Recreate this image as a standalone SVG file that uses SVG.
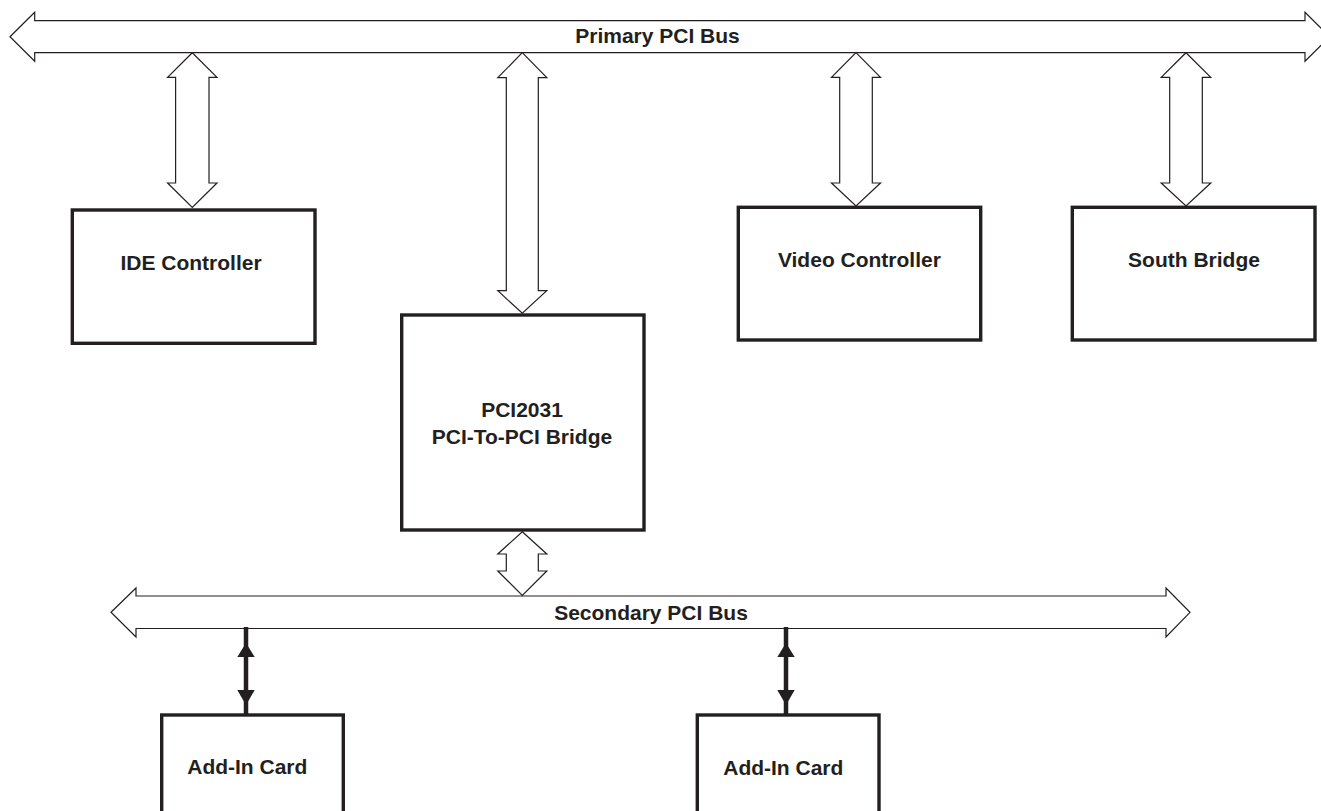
<svg xmlns="http://www.w3.org/2000/svg" width="1321" height="811" viewBox="0 0 1321 811">
<style>
.bus{fill:#fff;stroke:#231f20;stroke-width:1.2;stroke-linejoin:miter}
.blk{fill:#fff;stroke:#231f20;stroke-width:1.2;stroke-linejoin:miter}
.box{fill:#fff;stroke:#231f20;stroke-width:3.4}
.lbl{font-family:"Liberation Sans",Arial,sans-serif;font-weight:bold;font-size:21px;fill:#231f20;text-anchor:middle}
.wire{stroke:#231f20;stroke-width:4.5;fill:none}
.head{fill:#231f20;stroke:none}
</style>
<rect width="1321" height="811" fill="#fff"/>
<g id="primary-bus">
<path class="bus" d="M10,36.7 L34.7,12.3 L34.7,20.7 L1305,20.7 L1305,12.3 L1329.7,36.7 L1305,61.3 L1305,52.7 L34.7,52.7 L34.7,61.3 Z"/>
<text class="lbl" x="657.5" y="43">Primary PCI Bus</text>
</g>
<g id="secondary-bus">
<path class="bus" d="M111,612.3 L136,588 L136,596 L1166,596 L1166,588 L1190,612.3 L1166,637 L1166,628.5 L136,628.5 L136,637 Z"/>
<text class="lbl" x="651" y="620">Secondary PCI Bus</text>
</g>
<g id="connectors">
<polygon class="blk" points="192.3,52.7 217,77.3 209,77.3 209,183 217,183 192.3,207.5 167.6,183 175.6,183 175.6,77.3 167.6,77.3"/>
<polygon class="blk" points="522.3,52.7 546.8,77.7 538.3,77.7 538.3,290.7 546.8,290.7 522.3,313.3 497.8,290.7 506.3,290.7 506.3,77.7 497.8,77.7"/>
<polygon class="blk" points="856,52.7 880.5,77.3 872.3,77.3 872.3,183 880.5,183 856,206 831.5,183 839.7,183 839.7,77.3 831.5,77.3"/>
<polygon class="blk" points="1186,52.7 1210.8,77.3 1202.3,77.3 1202.3,183 1210.8,183 1186,206 1161.2,183 1169.7,183 1169.7,77.3 1161.2,77.3"/>
<polygon class="blk" points="522.3,531.7 546.8,554 538.3,554 538.3,571 546.8,571 522.3,595.5 497.8,571 506.3,571 506.3,554 497.8,554"/>
<line class="wire" x1="246" y1="627" x2="246" y2="715"/>
<polygon class="head" points="246,643 254.7,657 237.3,657"/>
<polygon class="head" points="237.3,690 254.7,690 246,705"/>
<line class="wire" x1="786" y1="627" x2="786" y2="715"/>
<polygon class="head" points="786,643 794.7,657 777.3,657"/>
<polygon class="head" points="777.3,690 794.7,690 786,705"/>
</g>
<g id="ide-controller">
<rect class="box" x="72.3" y="210" width="242.7" height="133.3"/>
<text class="lbl" x="191" y="270">IDE Controller</text>
</g>
<g id="pci2031">
<rect class="box" x="401.7" y="315" width="242.3" height="215"/>
<text class="lbl" x="522" y="416.7">PCI2031</text>
<text class="lbl" x="522" y="444.3">PCI-To-PCI Bridge</text>
</g>
<g id="video-controller">
<rect class="box" x="738.3" y="207.3" width="242.4" height="132.7"/>
<text class="lbl" x="859.4" y="267">Video Controller</text>
</g>
<g id="south-bridge">
<rect class="box" x="1072.3" y="207.3" width="242.7" height="132.7"/>
<text class="lbl" x="1194" y="266.7">South Bridge</text>
</g>
<g id="add-in-card-1">
<rect class="box" x="161.7" y="715" width="181.6" height="120"/>
<text class="lbl" x="247.3" y="774">Add-In Card</text>
</g>
<g id="add-in-card-2">
<rect class="box" x="697.3" y="715" width="181.7" height="120"/>
<text class="lbl" x="783.3" y="775">Add-In Card</text>
</g>
</svg>
